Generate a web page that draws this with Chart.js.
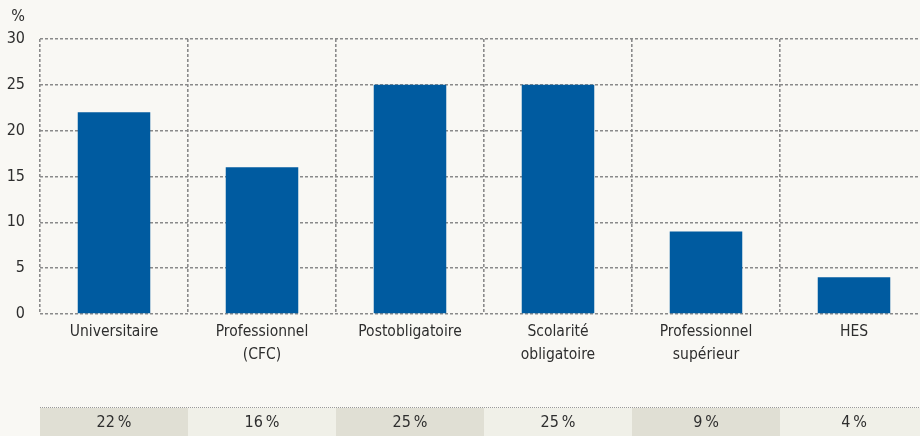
<!DOCTYPE html>
<html>
<head>
<meta charset="utf-8">
<script src="https://cdn.jsdelivr.net/npm/chart.js@4"></script>
<style>
html,body{margin:0;padding:0;background:#f9f8f4;overflow:hidden}
#wrap{width:920px;height:436px;overflow:hidden}
</style>
</head>
<body>
<div id="wrap"><canvas id="grafik" width="928" height="436" style="width:928px;height:436px"></canvas></div>
<script>
let kategori=[["Universitaire"],["Professionnel","(CFC)"],["Postobligatoire"],["Scolarité","obligatoire"],["Professionnel","supérieur"],["HES"]]
let nilai=[22,16,25,25,9,4]
let labelTabel=["22\u202f%","16\u202f%","25\u202f%","25\u202f%","9\u202f%","4\u202f%"]
let yMin=0
let yMax=30
let yStep=5

let huruf="'DejaVu Sans Condensed','Liberation Sans Narrow',sans-serif"
let warnaTeks="#2e2e2e"

// background, "%" label and the percentage strip under the chart
let pluginTabel={
id:"tabel",
beforeDraw(chart){
let ctx=chart.ctx
ctx.save()
ctx.fillStyle="#f9f8f4"
ctx.fillRect(0,0,chart.width,chart.height)
ctx.restore()
},
afterDraw(chart){
let ctx=chart.ctx
let x=chart.scales.x
let area=chart.chartArea
let lebar=(area.right-area.left)/kategori.length
let atas=407
ctx.save()
labelTabel.forEach((t,i)=>{
let tengah=x.getPixelForValue(i)
ctx.fillStyle=i%2==0?"#e0dfd4":"#f0f0e8"
ctx.fillRect(tengah-lebar/2,atas+1,lebar,chart.height-atas)
ctx.fillStyle=warnaTeks
ctx.font="16px "+huruf
ctx.textAlign="center"
ctx.textBaseline="middle"
ctx.fillText(t,tengah,423)
})
ctx.strokeStyle="#9a9a9a"
ctx.lineWidth=1
ctx.setLineDash([1,1])
ctx.beginPath()
ctx.moveTo(area.left,atas+0.5)
ctx.lineTo(area.right,atas+0.5)
ctx.stroke()
ctx.setLineDash([])
ctx.fillStyle=warnaTeks
ctx.font="16px "+huruf
ctx.textAlign="right"
ctx.textBaseline="middle"
ctx.fillText("%",25,17)
ctx.restore()
}
}

new Chart(document.getElementById("grafik"),{
type:"bar",
data:{
labels:kategori,
datasets:[{
data:nilai,
backgroundColor:"#005ba0",
barPercentage:0.49,
categoryPercentage:1
}]
},
options:{
responsive:false,
animation:false,
devicePixelRatio:1,
layout:{padding:{top:39,left:0,right:0,bottom:0}},
plugins:{legend:{display:false},tooltip:{enabled:false}},
scales:{
x:{
grid:{color:"#8a8a8a",lineWidth:1.6,drawTicks:false,offset:true},
border:{display:false,dash:[3,2]},
ticks:{color:warnaTeks,font:{family:huruf,size:15.5,lineHeight:1.5},padding:6,maxRotation:0,autoSkip:false},
afterFit(axis){axis.height=122}
},
y:{
min:yMin,
max:yMax,
grid:{color:"#8a8a8a",lineWidth:1.6,drawTicks:false},
border:{display:false,dash:[3,2]},
ticks:{stepSize:yStep,color:warnaTeks,font:{family:huruf,size:16},padding:15},
afterFit(axis){axis.width=40}
}
}
},
plugins:[pluginTabel]
})
</script>
</body>
</html>
